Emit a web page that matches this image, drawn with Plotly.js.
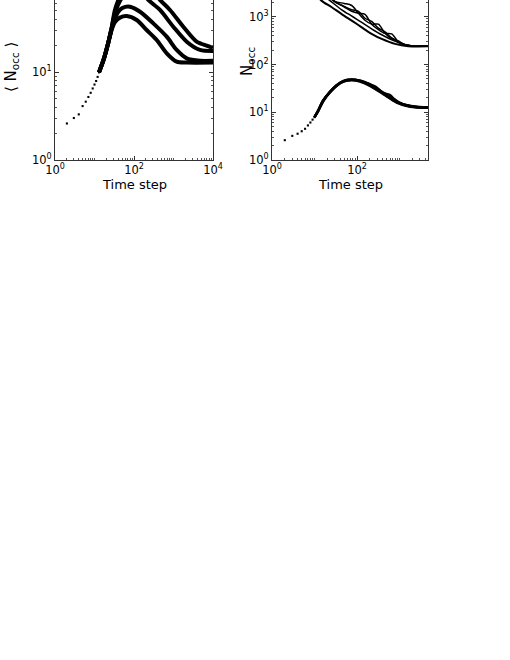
<!DOCTYPE html>
<html>
<head>
<meta charset="utf-8">
<script src="https://cdn.plot.ly/plotly-3.0.1.min.js"></script>
<style>
html,body{margin:0;padding:0;background:#fff;overflow:hidden;}
#chart{position:absolute;left:0;top:-31px;width:510px;height:691px;}
</style>
</head>
<body>
<div id="chart"></div>
<script>
// ---------- data: left panel ----------
const leftDotT = [2,3,4,5,6,7,8,9,10,11,12,13];
const leftDotY = [2.6,3.0,3.3,4.1,4.6,5.2,5.8,6.5,7.2,7.9,8.8,9.9];

const leftAT = [13,17,22,27,33,44,65,117,209,376,674,1205,2150,10000];
const leftAY = [9.9,13.8,21,30,37,41.5,43.3,39,30,23.1,16.3,13.1,12.8,12.8];
const leftBT = [13,17,22,27,33,44,60,79,142,308,673,1205,2160,4680,10000];
const leftBY = [9.9,13.8,21,30.5,41,51,55,55.2,48.4,35.7,25.2,17.8,14.3,13.4,13.4];
const leftCT = [13,17,22,27,33,44,60,100,160,230,455,988,2160,4680,10000];
const leftCY = [9.9,13.8,21,31,47,64,78,88,80,66,50.7,32.7,22.1,17.8,17.3];
const leftDT = [13,17,22,27,33,44,60,120,250,455,815,1770,3865,6920,10000];
const leftDY = [9.9,13.8,21,31.5,51,72,92,110,95,66,50.7,32.7,22.1,19.9,18.8];

// ---------- data: right panel ----------
const rightDotT = [2,3,4,5,6,7,8,9,10];
const rightDotY = [2.6,3.2,3.55,4.0,4.5,5.3,6.1,7.0,7.9];

const lowL1T = [10,12,16,23,33,48,75,118,202,417,855,1770,4700];
const lowL1Y = [7.9,10.4,17.5,26.5,36.5,44.9,47.9,44.9,36.5,24.5,16.4,13.3,12.5];
const lowL2T = [10,12,16,23,33,48,75,118,180,240,290,360,470,597,720,1000,1500,2500,4700];
const lowL2Y = [7.9,10.4,17.6,26.8,37,45.5,48.5,45.5,40,36,33,28,24.5,23,19.5,16,14,13,12.6];
const lowL3T = [10,12,16,23,33,48,75,118,150,200,260,330,420,520,700,1000,1500,2500,4700];
const lowL3Y = [7.9,10.4,17.4,26.2,36,44.5,48,46,43,38.5,31.5,29,25,21.5,19,15.5,13.8,12.9,12.5];
const lowL4T = [10,12,16,23,33,48,75,118,202,417,855,1770,4700];
const lowL4Y = [7.9,10.4,17,26,36,44,47,44,35.5,24,16,13,12.4];

const upST = [8,14.8,25,43.6,80,129,220,381,784,1610,4700];
const upSY = [4000,2150,1600,1137,800,600,440,343,270,242,240];
const upMT = [10,20,43.6,80,129,220,381,700,1200,2000,4700];
const upMY = [3600,2400,1400,1000,760,560,420,320,265,243,240];
const upW1T = [20,30,50,75,108,154,221,318,456,655,940,1300,2000,4700];
const upW1Y = [2900,2100,1900,1720,1180,845,700,700,450,343,300,262,245,240];
const upW2T = [20,30,50,75,108,154,221,318,456,655,940,1300,2000,4700];
const upW2Y = [2900,2100,1600,1300,1180,1120,700,540,450,437,300,262,245,240];
const upW3T = [20,30,50,75,108,154,221,318,456,655,940,1300,2000,4700];
const upW3Y = [2800,2050,1650,1400,1300,930,800,580,480,360,310,262,245,240];

// ---------- tick labels ----------
const leftXTickVals = [1,100,10000];
const leftXTickText = ['10<sup>0</sup>','10<sup>2</sup>','10<sup>4</sup>'];
const leftYTickVals = [1,10];
const leftYTickText = ['10<sup>0</sup>','10<sup>1</sup>'];
const rightXTickVals = [1,100];
const rightXTickText = ['10<sup>0</sup>','10<sup>2</sup>'];
const rightYTickVals = [1,10,100,1000];
const rightYTickText = ['10<sup>0</sup>','10<sup>1</sup>','10<sup>2</sup>','10<sup>3</sup>'];

const xLabel = 'Time step';
const leftYLabel = '\u27E8 N<sub>occ</sub> \u27E9';
const rightYLabel = 'N<sub>occ</sub>';

// ---------- traces ----------
function line(x, y, w, ax) {
  return {x: x, y: y, mode: 'lines', type: 'scatter', xaxis: ax[0], yaxis: ax[1],
          line: {color: '#000', width: w, shape: 'spline', smoothing: 0.8},
          hoverinfo: 'skip', showlegend: false};
}
function dots(x, y, ax) {
  return {x: x, y: y, mode: 'markers', type: 'scatter', xaxis: ax[0], yaxis: ax[1],
          marker: {color: '#000', size: 2.1, symbol: 'square', line: {width: 0}},
          hoverinfo: 'skip', showlegend: false};
}
const L = ['x', 'y'], R = ['x2', 'y2'];
const traces = [
  dots(leftDotT, leftDotY, L),
  line(leftAT, leftAY, 4, L),
  line(leftBT, leftBY, 4, L),
  line(leftCT, leftCY, 4, L),
  line(leftDT, leftDY, 4, L),
  dots(rightDotT, rightDotY, R),
  line(lowL1T, lowL1Y, 2.5, R),
  line(lowL2T, lowL2Y, 2.5, R),
  line(lowL3T, lowL3Y, 2.5, R),
  line(lowL4T, lowL4Y, 2.5, R),
  line(upST, upSY, 2, R),
  line(upMT, upMY, 1.5, R),
  line(upW1T, upW1Y, 1.5, R),
  line(upW2T, upW2Y, 1.5, R),
  line(upW3T, upW3Y, 1.5, R)
];

const H = 691, W = 510;
const FONT = 'DejaVu Sans, Liberation Sans, Arial, sans-serif';
const tickFont = {family: FONT, size: 11.5, color: '#000'};
function axis(extra) {
  return Object.assign({
    type: 'log', showgrid: false, zeroline: false, showline: true,
    linecolor: '#333', linewidth: 1, mirror: 'ticks',
    ticks: 'inside', ticklen: 4, tickcolor: '#333', tickwidth: 1,
    tickmode: 'array', tickfont: tickFont,
    minor: {ticks: 'inside', ticklen: 2, tickcolor: '#555', dtick: 'D1', showgrid: false}
  }, extra);
}
const pY = function(imgY) { return (H - (imgY + 31)) / H; };

const layout = {
  width: W, height: H,
  margin: {l: 0, r: 0, t: 0, b: 0},
  paper_bgcolor: '#fff', plot_bgcolor: '#fff',
  showlegend: false,
  xaxis: axis({domain: [55/W, 213/W], range: [0, 4], tickvals: leftXTickVals, ticktext: leftXTickText, anchor: 'y', ticklabelstandoff: -1}),
  yaxis: axis({domain: [pY(160), pY(-16)], range: [0, 2], tickvals: leftYTickVals, ticktext: leftYTickText, anchor: 'x'}),
  xaxis2: axis({domain: [272/W, 428/W], range: [0, 3.67], tickvals: rightXTickVals, ticktext: rightXTickText, anchor: 'y2', ticklabelstandoff: -1}),
  yaxis2: axis({domain: [pY(160), pY(-31)], range: [0, 4], tickvals: rightYTickVals, ticktext: rightYTickText, anchor: 'x2'}),
  annotations: [
    {text: xLabel, xref: 'paper', yref: 'paper', x: 134/W, y: pY(184), xanchor: 'center', yanchor: 'middle', showarrow: false,
     font: {family: FONT, size: 13, color: '#000'}},
    {text: xLabel, xref: 'paper', yref: 'paper', x: 350/W, y: pY(184), xanchor: 'center', yanchor: 'middle', showarrow: false,
     font: {family: FONT, size: 13, color: '#000'}},
    {text: leftYLabel, xref: 'paper', yref: 'paper', x: 11/W, y: pY(67), xanchor: 'center', yanchor: 'middle', textangle: -90, showarrow: false,
     font: {family: FONT, size: 15, color: '#000'}},
    {text: rightYLabel, xref: 'paper', yref: 'paper', x: 247/W, y: pY(62), xanchor: 'center', yanchor: 'middle', textangle: -90, showarrow: false,
     font: {family: FONT, size: 15, color: '#000'}}
  ]
};

Plotly.newPlot('chart', traces, layout, {staticPlot: true, displayModeBar: false});
</script>
</body>
</html>
